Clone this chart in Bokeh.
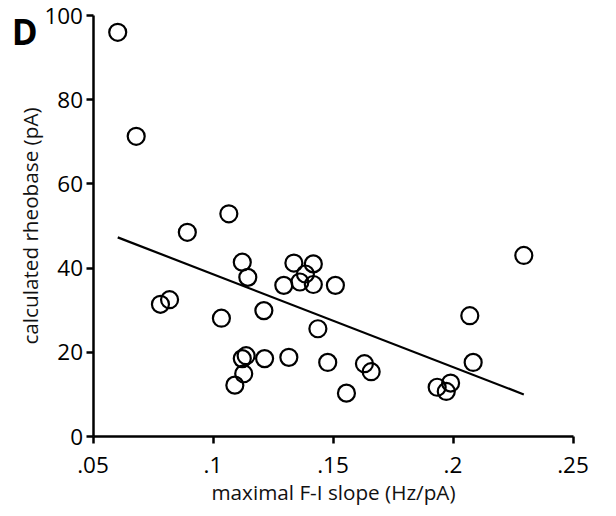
from bokeh.plotting import figure
from bokeh.models import Range1d, FixedTicker, Label
from bokeh.embed import file_html
from bokeh.resources import INLINE

# maximal F-I slope (Hz/pA)
slope = [0.0603, 0.0680, 0.0893, 0.1066, 0.1122, 0.1145, 0.0781, 0.0819, 0.1035,
         0.1212, 0.1122, 0.1138, 0.1215, 0.1316, 0.1128, 0.1091, 0.1337, 0.1418,
         0.1385, 0.1362, 0.1295, 0.1418, 0.1510, 0.1437, 0.1478, 0.1631, 0.1659,
         0.1556, 0.2295, 0.2070, 0.2084, 0.1934, 0.1990, 0.1972]
# calculated rheobase (pA)
rheobase = [96.0, 71.3, 48.5, 52.9, 41.4, 37.8, 31.4, 32.5, 28.1,
            29.9, 18.5, 19.2, 18.5, 18.8, 14.9, 12.2, 41.2, 41.0,
            38.6, 36.7, 35.9, 36.1, 35.9, 25.6, 17.6, 17.3, 15.4,
            10.3, 43.0, 28.7, 17.6, 11.7, 12.7, 10.7]
# regression line end points
fit_x = [0.0603, 0.2295]
fit_y = [47.3, 10.0]

x_ticks = [0.05, 0.1, 0.15, 0.2, 0.25]
x_tick_labels = [".05", ".1", ".15", ".2", ".25"]
y_ticks = [0, 20, 40, 60, 80, 100]
x_axis_start, x_axis_end = 0.05, 0.25
y_axis_start, y_axis_end = 0, 100

FONT = "Open Sans"

# the plotting frame fills the whole canvas; the axes are placed at fixed
# locations inside it so the panel letter and labels are never clipped
p = figure(width=616, height=516, output_backend="svg", toolbar_location=None,
           x_range=Range1d(0.011458, 0.268125), y_range=Range1d(-19.0, 103.56),
           min_border_left=0, min_border_right=0, min_border_top=0,
           min_border_bottom=0)
p.outline_line_color = None
p.xgrid.grid_line_color = None
p.ygrid.grid_line_color = None
p.background_fill_color = "white"
p.border_fill_color = "white"

for ax in (p.xaxis[0], p.yaxis[0]):
    ax.axis_line_width = 2.5
    ax.axis_line_color = "black"
    ax.major_tick_line_width = 2.5
    ax.major_tick_line_color = "black"
    ax.major_tick_in = 0
    ax.major_tick_out = 7
    ax.minor_tick_line_color = None
    ax.major_label_text_font = FONT
    ax.major_label_text_font_size = "22.5px"
    ax.major_label_text_color = "black"
    ax.axis_label_text_font = FONT
    ax.axis_label_text_font_size = "20.7px"
    ax.axis_label_text_font_style = "normal"
    ax.axis_label_text_color = "#111111"

p.xaxis.ticker = FixedTicker(ticks=x_ticks)
p.xaxis.bounds = (x_axis_start, x_axis_end)
p.xaxis.fixed_location = y_axis_start
p.xaxis.major_label_overrides = {t: l for t, l in zip(x_ticks, x_tick_labels)}
p.yaxis.ticker = FixedTicker(ticks=y_ticks)
p.yaxis.bounds = (y_axis_start, y_axis_end)
p.yaxis.fixed_location = x_axis_start
p.xaxis.axis_label = "maximal F-I slope (Hz/pA)"
p.yaxis.axis_label = "calculated rheobase (pA)"
p.xaxis.major_label_standoff = 13
p.yaxis.major_label_standoff = 3
p.xaxis.axis_label_standoff = 2
p.yaxis.axis_label_standoff = -2

p.line(fit_x, fit_y, line_color="black", line_width=2.2)
p.scatter(slope, rheobase, marker="circle", size=17, fill_color=None,
          line_color="black", line_width=2.2)

lab = Label(x=0.0215, y=96.2, text="D",
            text_font=FONT, text_font_style="bold",
            text_font_size="35px", text_align="center", text_baseline="middle",
            text_color="black")
p.add_layout(lab)

open("out.html", "w").write(file_html(p, INLINE))
